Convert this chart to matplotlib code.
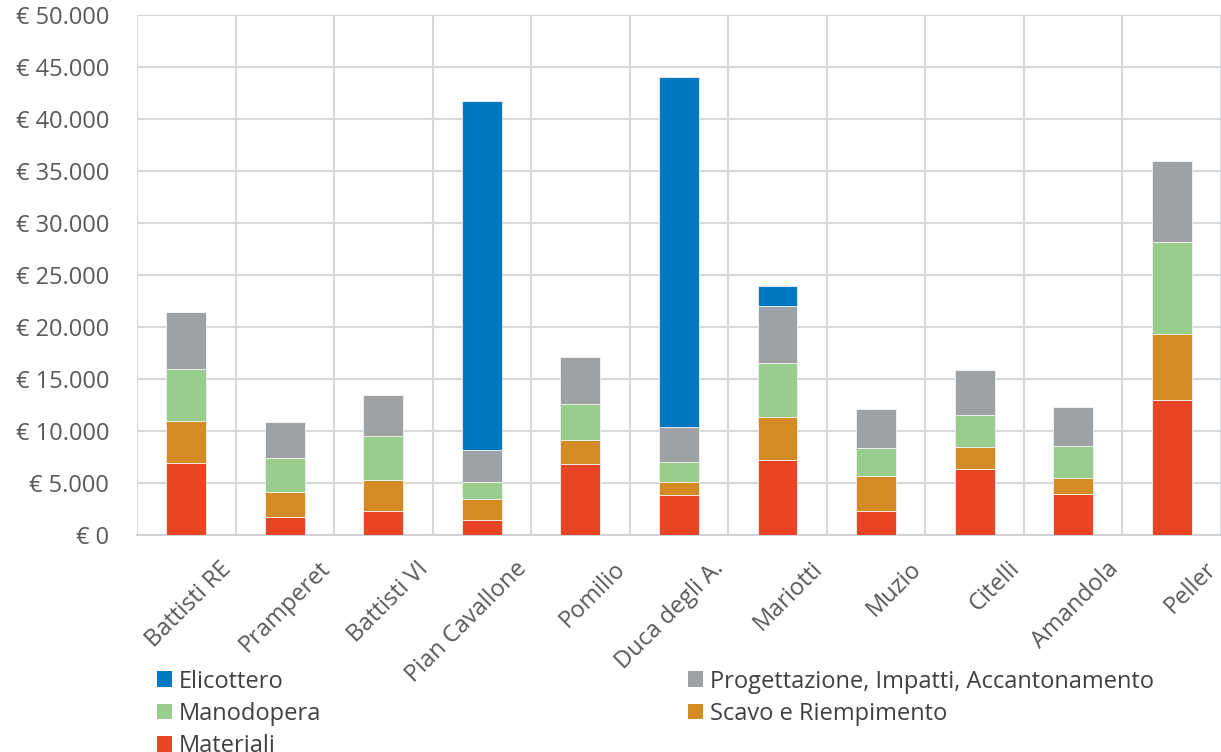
import matplotlib.pyplot as plt
import matplotlib.ticker as mticker
from matplotlib.patches import Patch
import matplotlib.transforms as mtrans
import numpy as np

plt.rcParams['font.family'] = ['Open Sans', 'DejaVu Sans']

cantieri = ['Battisti RE', 'Pramperet', 'Battisti VI', 'Pian Cavallone', 'Pomilio',
            'Duca degli A.', 'Mariotti', 'Muzio', 'Citelli', 'Amandola', 'Peller']
materiali = [6950, 1760, 2270, 1470, 6790, 3880, 7210, 2270, 6350, 3910, 12950]
scavo = [4000, 2410, 3050, 2020, 2380, 1250, 4140, 3370, 2150, 1540, 6350]
manodopera = [5000, 3200, 4170, 1610, 3390, 1860, 5190, 2730, 3000, 3110, 8840]
progettazione = [5450, 3460, 3970, 3070, 4590, 3430, 5510, 3750, 4400, 3720, 7850]
elicottero = [0, 0, 0, 33600, 0, 33600, 1850, 0, 0, 0, 0]

serie = [('Materiali', materiali, '#E94524'),
         ('Scavo e Riempimento', scavo, '#D58B24'),
         ('Manodopera', manodopera, '#98CD8E'),
         ('Progettazione, Impatti, Accantonamento', progettazione, '#9EA2A5'),
         ('Elicottero', elicottero, '#0078C1')]

fig = plt.figure(figsize=(12.21, 7.52), dpi=100)
ax = fig.add_axes([0.1122, 0.2886, 0.8878, 0.6914])

x = np.arange(len(cantieri))
base = np.zeros(len(cantieri))
colori = {}
for nome, val, col in serie:
    ax.bar(x, val, bottom=base, width=0.405, color=col, edgecolor='#f2f2f2',
           linewidth=0.6, zorder=3)
    base += np.array(val)
    colori[nome] = col

ax.set_xlim(-0.5, len(cantieri) - 0.5)
ax.set_ylim(0, 50000)
ax.yaxis.set_major_locator(mticker.MultipleLocator(5000))
ax.yaxis.set_major_formatter(mticker.FuncFormatter(
    lambda v, p: '€ ' + f'{int(v):,}'.replace(',', '.')))
ax.set_xticks(x)
ax.set_xticklabels(cantieri, rotation=45, ha='right', va='top', rotation_mode='anchor')
ax.set_xticks(np.arange(-0.5, len(cantieri)), minor=True)
ax.grid(axis='y', color='#d6d9dc', linewidth=1.5, zorder=0)
ax.grid(axis='x', which='minor', color='#d6d9dc', linewidth=1.5, zorder=0)
ax.tick_params(axis='both', which='both', length=0, labelsize=17, labelcolor='#595959')
ax.tick_params(axis='y', pad=20)
off = mtrans.ScaledTranslation(0.33, -0.17, fig.dpi_scale_trans)
for lab in ax.get_xticklabels():
    lab.set_transform(lab.get_transform() + off)
for s in ['top', 'right', 'left']:
    ax.spines[s].set_visible(False)
ax.spines['bottom'].set_color('#d0d3d6')
ax.spines['bottom'].set_linewidth(1.5)

def legenda(nomi, xpos):
    h = [Patch(facecolor=colori[n], label=n) for n in nomi]
    fig.legend(handles=h, loc='upper left', bbox_to_anchor=(xpos, 0.1097),
               frameon=False, fontsize=17, labelcolor='#404040',
               handlelength=0.64, handleheight=0.64, handletextpad=0.3,
               labelspacing=0.35, borderaxespad=0, borderpad=0)

legenda(['Elicottero', 'Manodopera', 'Materiali'], 0.1286)
legenda(['Progettazione, Impatti, Accantonamento', 'Scavo e Riempimento'], 0.5635)

fig.savefig('out.png', dpi=100)
